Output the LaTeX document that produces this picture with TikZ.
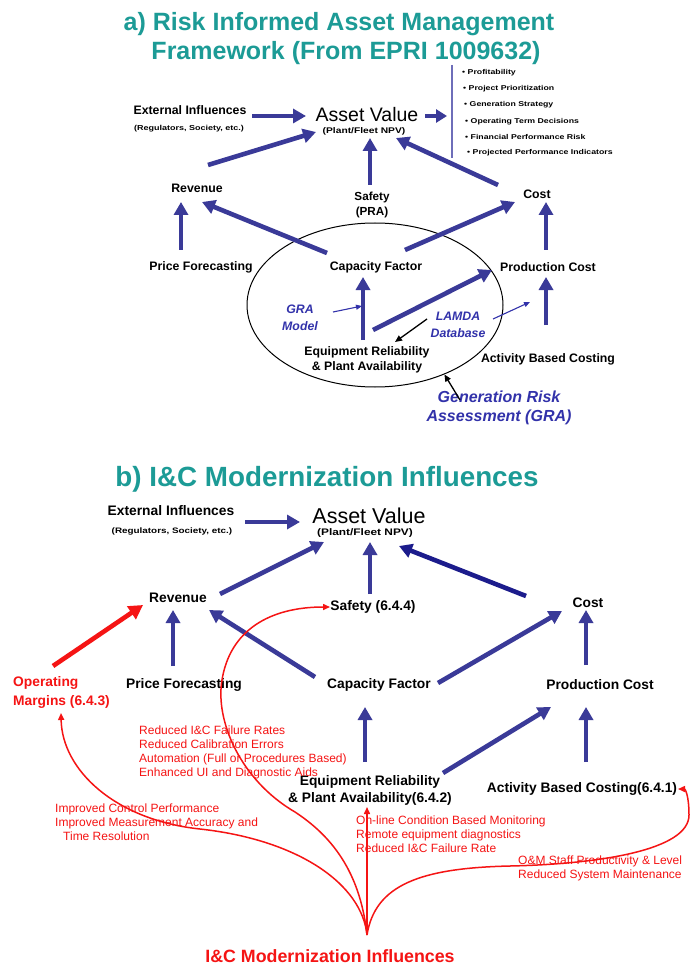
\documentclass[tikz,border=0pt]{standalone}
\usepackage{fontspec}
\setmainfont{Liberation Sans}
\newfontfamily\widesans[FakeStretch=1.25]{Liberation Sans}
\usetikzlibrary{arrows.meta,shapes.geometric}

\definecolor{titleteal}{RGB}{28,155,150}
\definecolor{flowblue}{RGB}{58,58,152}
\definecolor{deepnavy}{RGB}{28,28,140}
\definecolor{noteblue}{RGB}{50,50,170}
\definecolor{barblue}{RGB}{110,110,185}
\definecolor{hotred}{RGB}{245,20,20}

\begin{document}
\begin{tikzpicture}[x=1pt,y=-1pt,
  every node/.style={inner sep=0pt, align=center},
  heading/.style={font=\bfseries\fontsize{25}{30}\selectfont, text=titleteal},
  lblA/.style={font=\bfseries\fontsize{12.3}{15}\selectfont},
  lblB/.style={font=\bfseries\fontsize{13.8}{17}\selectfont},
  valA/.style={font=\fontsize{19.5}{22}\selectfont},
  valB/.style={font=\fontsize{21.5}{24}\selectfont},
  smallA/.style={font=\widesans\bfseries\fontsize{7.2}{9}\selectfont},
  smallB/.style={font=\widesans\bfseries\fontsize{7.9}{9}\selectfont},
  npvA/.style={font=\widesans\bfseries\fontsize{8.2}{10}\selectfont},
  npvB/.style={font=\widesans\bfseries\fontsize{9.5}{11}\selectfont},
  listitem/.style={font=\widesans\bfseries\fontsize{7}{8}\selectfont, anchor=west},
  bluenote/.style={font=\bfseries\itshape\fontsize{12.3}{16.5}\selectfont, text=noteblue},
  rednote/.style={font=\fontsize{12}{14}\selectfont, text=hotred, align=left, anchor=west},
  flow/.style={draw=flowblue, line width=4.6pt, -{Triangle[length=13pt,width=14pt]}},
  navyflow/.style={draw=deepnavy, line width=4.6pt, -{Triangle[length=13pt,width=14pt]}},
  redflow/.style={draw=hotred, line width=4.6pt, -{Triangle[length=14pt,width=15pt]}},
  thinred/.style={draw=hotred, line width=1.5pt, -{Triangle[length=7pt,width=6pt]}},
  thinblue/.style={draw=noteblue, line width=1.1pt, -{Triangle[length=6pt,width=5pt]}},
  thinblack/.style={draw=black, line width=1.3pt, -{Triangle[length=7pt,width=6pt]}}]

\fill[white] (0,0) rectangle (691,965);
\useasboundingbox (0,0) rectangle (691,965);

% ---------------- a) framework ----------------
\node[heading] (hdA1) at (339,24) {a) Risk Informed Asset Management};
\node[heading] (hdA2) at (346,53) {Framework (From EPRI 1009632)};

\node[lblA] (extA) at (190,110) {External Influences};
\node[smallA] (regA) at (189,129) {(Regulators, Society, etc.)};
\node[valA] (avA) at (367,115) {Asset Value};
\node[npvA] (npvA) at (364,131) {(Plant/Fleet NPV)};

\coordinate (barTop) at (452,65);
\coordinate (barBot) at (452,158);
\coordinate (barMid) at (452,116);
\draw[barblue, line width=1.4pt] (barTop) -- (barBot);
\node[listitem] (liA) at (462,73) {\textbullet\ Profitability};
\node[listitem] (liB) at (463,89) {\textbullet\ Project Prioritization};
\node[listitem] (liC) at (464,105) {\textbullet\ Generation Strategy};
\node[listitem] (liD) at (465,121.5) {\textbullet\ Operating Term Decisions};
\node[listitem] (liE) at (465,137) {\textbullet\ Financial Performance Risk};
\node[listitem] (liF) at (467,153) {\textbullet\ Projected Performance Indicators};

\node[lblA] (revA) at (197,188) {Revenue};
\node[lblA, font=\bfseries\fontsize{11.7}{15}\selectfont] (safA) at (372,204.5) {Safety\\(PRA)};
\node[lblA] (costA) at (537,194) {Cost};
\node[lblA] (pfA) at (201,267) {Price Forecasting};
\node[lblA] (cfA) at (376,267) {Capacity Factor};
\node[lblA] (pcA) at (548,267) {Production Cost};
\node[lblA] (eqA) at (367,360) {Equipment Reliability\\\& Plant Availability};
\node[lblA] (abcA) at (548,359) {Activity Based Costing};
\node[bluenote] (graA) at (300,318) {GRA\\Model};
\node[bluenote, font=\bfseries\itshape\fontsize{12.3}{17}\selectfont] (lamdaA) at (458,325) {LAMDA\\Database};
\node[font=\bfseries\itshape\fontsize{16}{19}\selectfont, text=noteblue] (genA) at (499,408) {Generation Risk\\Assessment (GRA)};

\node[draw, ellipse, line width=1pt, minimum width=256pt, minimum height=164pt] (graEll) at (375,305) {};

\draw[flow] ([shift={(62,6)}]extA.center) -- ([shift={(-61,1)}]avA.center);
\draw[draw=flowblue, line width=4.6pt, -{Triangle[length=11pt,width=13pt]}] ([shift={(58,1)}]avA.center) -- ([shift={(-5,0)}]barMid);
\draw[flow] ([shift={(11,-23)}]revA.center) -- ([shift={(-51,17)}]avA.center);
\draw[flow] ([shift={(-2,-19.5)}]safA.center) -- ([shift={(3,23)}]avA.center);
\draw[flow] ([shift={(-39,-9)}]costA.center) -- ([shift={(29,23)}]avA.center);
\draw[flow] ([shift={(-20,-17)}]pfA.center) -- ([shift={(-16,14)}]revA.center);
\draw[flow] ([shift={(-49,-14)}]cfA.center) -- ([shift={(5,14)}]revA.center);
\draw[flow] ([shift={(29,-17)}]cfA.center) -- ([shift={(-22,8)}]costA.center);
\draw[flow] ([shift={(-2,-17)}]pcA.center) -- ([shift={(9,8)}]costA.center);
\draw[flow] ([shift={(-4,-20)}]eqA.center) -- ([shift={(-13,10)}]cfA.center);
\draw[flow] ([shift={(6,-30)}]eqA.center) -- ([shift={(-56,3)}]pcA.center);
\draw[flow] ([shift={(-2,-34)}]abcA.center) -- ([shift={(-2,10)}]pcA.center);
\draw[thinblue] ([shift={(33,-6)}]graA.center) -- ([shift={(-14,39)}]cfA.center);
\draw[thinblue] ([shift={(35,-6)}]lamdaA.center) -- ([shift={(-18,35)}]pcA.center);
\draw[thinblack] ([shift={(-31,-6)}]lamdaA.center) -- ([shift={(28,-18)}]eqA.center);
\draw[thinblack] ([shift={(-39,-8)}]genA.center) -- (graEll.-45);

% ---------------- b) I&C modernization ----------------
\node[heading, font=\bfseries\fontsize{27.8}{32}\selectfont] (hdB) at (327,479) {b) I\&C Modernization Influences};

\node[lblB] (extB) at (171,511) {External Influences};
\node[smallB] (regB) at (172,531) {(Regulators, Society, etc.)};
\node[valB] (avB) at (369,516) {Asset Value};
\node[npvB] (npvB) at (365,533) {(Plant/Fleet NPV)};

\node[lblB] (revB) at (178,598) {Revenue};
\node[lblB] (safB) at (373,607) {Safety (6.4.4)};
\node[lblB] (costB) at (588,603) {Cost};
\node[lblB, text=hotred, align=left, anchor=west, font=\bfseries\fontsize{13.8}{19}\selectfont] (omB) at (13,692) {Operating\\Margins (6.4.3)};
\node[lblB] (pfB) at (184,685) {Price Forecasting};
\node[lblB] (cfB) at (379,685) {Capacity Factor};
\node[lblB] (pcB) at (600,685) {Production Cost};
\node[lblB] (eqB) at (370,790) {Equipment Reliability\\\& Plant Availability(6.4.2)};
\node[lblB] (abcB) at (582,789) {Activity Based Costing(6.4.1)};

\node[rednote] (noteA) at (139,752) {Reduced I\&C Failure Rates\\Reduced Calibration Errors\\Automation (Full or Procedures Based)\\Enhanced UI and Diagnostic Aids};
\node[rednote] (noteB) at (55,822) {Improved Control Performance\\Improved Measurement Accuracy and\\\hspace*{8pt}Time Resolution};
\node[rednote] (noteC) at (356,834.5) {On-line Condition Based Monitoring\\Remote equipment diagnostics\\Reduced I\&C Failure Rate};
\node[rednote] (noteD) at (518,868.5) {O\&M Staff Productivity \& Level\\Reduced System Maintenance};
\node[font=\bfseries\fontsize{17.8}{20}\selectfont, text=hotred] (icB) at (330,956) {I\&C Modernization Influences};

\draw[flow] ([shift={(74,11)}]extB.center) -- ([shift={(-69,6)}]avB.center);
\draw[flow] ([shift={(42,-4)}]revB.center) -- ([shift={(-45,26)}]avB.center);
\draw[flow] ([shift={(-3,-13)}]safB.center) -- ([shift={(1,26)}]avB.center);
\draw[navyflow] ([shift={(-62,-7)}]costB.center) -- ([shift={(30,30)}]avB.center);
\draw[redflow] ([shift={(40,-26)}]omB.west) -- ([shift={(-35,7)}]revB.center);
\draw[flow] ([shift={(-11,-19)}]pfB.center) -- ([shift={(-5,12)}]revB.center);
\draw[flow] ([shift={(-64,-8)}]cfB.center) -- ([shift={(31,12)}]revB.center);
\draw[flow] ([shift={(59,-2)}]cfB.center) -- ([shift={(-26,8)}]costB.center);
\draw[flow] ([shift={(-14,-20)}]pcB.center) -- ([shift={(-2,7)}]costB.center);
\draw[flow] ([shift={(-5,-28)}]eqB.center) -- ([shift={(-14,22)}]cfB.center);
\draw[flow] ([shift={(73,-17)}]eqB.center) -- ([shift={(-49,22)}]pcB.center);
\draw[flow] ([shift={(4,-27)}]abcB.center) -- ([shift={(-14,22)}]pcB.center);

% red influence curves fanning out from one hub
\coordinate (hub) at ([shift={(37,-21)}]icB.center);
\draw[thinred] (hub) .. controls (362,885) and (300,840) .. (200,829)
  .. controls (115,820) and (62,770) .. ([shift={(48,21)}]omB.west);
\draw[thinred] (hub) .. controls (360,870) and (330,835) .. (295,812)
  .. controls (240,780) and (215,720) .. (222,680)
  .. controls (230,630) and (270,607) .. ([shift={(-43,0)}]safB.center);
\draw[thinred] (hub) -- ([shift={(-3,17)}]eqB.center);
\draw[thinred] (hub) .. controls (375,885) and (420,868) .. (510,866)
  .. controls (600,864) and (689,850) .. (689,815)
  .. controls (689,795) and (685,789) .. ([shift={(96,0)}]abcB.center);
\end{tikzpicture}
\end{document}
